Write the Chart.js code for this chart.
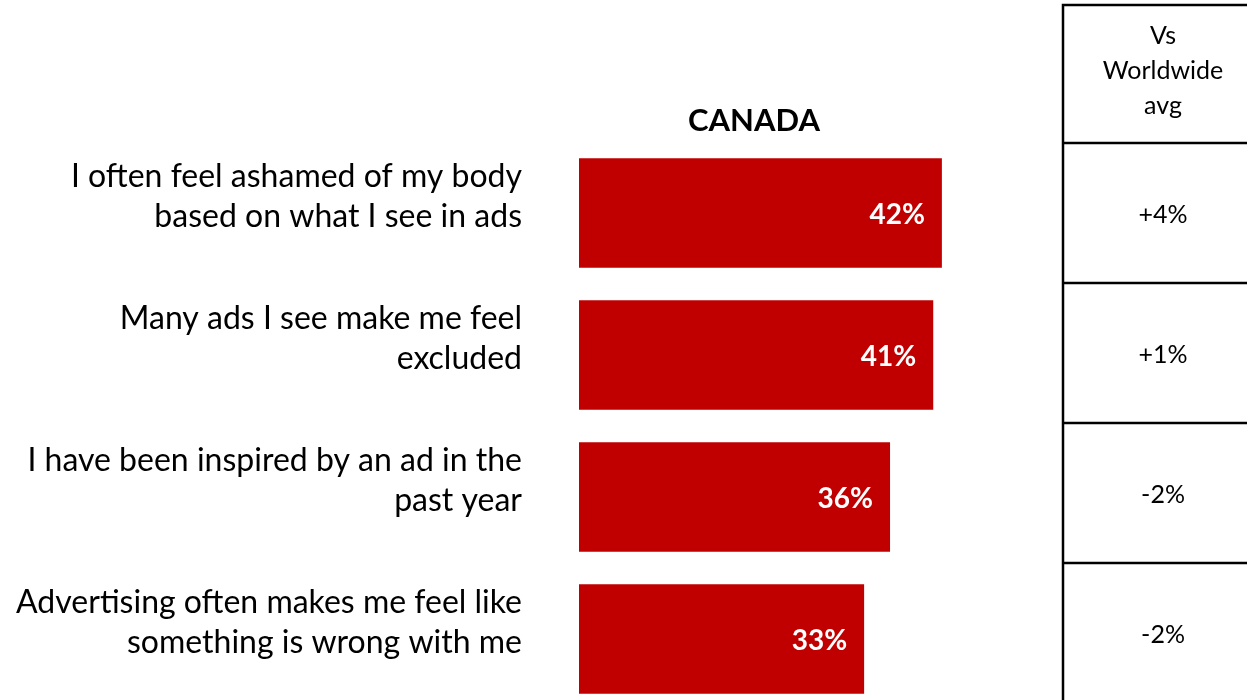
<!DOCTYPE html>
<html>
<head>
<meta charset="utf-8">
<script src="https://cdn.jsdelivr.net/npm/chart.js@4.4.0/dist/chart.umd.min.js"></script>
<style>
  html, body { margin: 0; padding: 0; background: #ffffff; overflow: hidden; }
  #wrap { position: relative; width: 1247px; height: 750px; }
</style>
</head>
<body>
<div id="wrap"><canvas id="chart" width="1247" height="750"></canvas></div>
<script>
// Survey statements (each entry is one label, split into its lines)
const categories = [
  ['I often feel ashamed of my body', 'based on what I see in ads'],
  ['Many ads I see make me feel', 'excluded'],
  ['I have been inspired by an ad in the', 'past year'],
  ['Advertising often makes me feel like', 'something is wrong with me']
];
// Share agreeing in Canada (%)
const canadaValues = [42, 41, 36, 33];
// Difference versus the worldwide average
const vsWorldwide = ['+4%', '+1%', '-2%', '-2%'];
const tableHeader = ['Vs', 'Worldwide', 'avg'];
const chartTitle = 'CANADA';

const FONT = 'Lato, "Open Sans", sans-serif';
const BAR_RED = '#C00000';

// Writes the percentage inside the end of each bar
const valueLabels = {
  id: 'valueLabels',
  afterDatasetsDraw(chart) {
    const { ctx } = chart;
    const meta = chart.getDatasetMeta(0);
    ctx.save();
    ctx.font = 'bold 28px ' + FONT;
    ctx.fillStyle = '#ffffff';
    ctx.textAlign = 'right';
    ctx.textBaseline = 'middle';
    meta.data.forEach((bar, i) => {
      ctx.fillText(canadaValues[i] + '%', bar.x - 17, bar.y + 2);
    });
    ctx.restore();
  }
};

// Country heading above the bars
const countryTitle = {
  id: 'countryTitle',
  afterDraw(chart) {
    const { ctx, chartArea } = chart;
    ctx.save();
    ctx.font = 'bold 31px ' + FONT;
    ctx.fillStyle = '#000000';
    ctx.textAlign = 'center';
    ctx.textBaseline = 'middle';
    ctx.fillText(chartTitle, chartArea.left + 175, chartArea.top - 21);
    ctx.restore();
  }
};

// Comparison column on the right with its grid lines
const comparisonTable = {
  id: 'comparisonTable',
  afterDraw(chart) {
    const { ctx, width } = chart;
    const left = 1063, top = 5, headerBottom = 143, rowH = 140;
    const cx = 1163;
    ctx.save();
    ctx.strokeStyle = '#000000';
    ctx.lineWidth = 2.5;
    ctx.beginPath();
    ctx.moveTo(left, chart.height);
    ctx.lineTo(left, top);
    ctx.lineTo(width, top);
    for (let i = 0; i < vsWorldwide.length; i++) {
      const y = headerBottom + i * rowH;
      ctx.moveTo(left, y);
      ctx.lineTo(width, y);
    }
    ctx.stroke();

    ctx.fillStyle = '#000000';
    ctx.textAlign = 'center';
    ctx.textBaseline = 'middle';
    ctx.font = '25px ' + FONT;
    tableHeader.forEach((line, i) => ctx.fillText(line, cx, 36 + i * 35));
    vsWorldwide.forEach((txt, i) => {
      ctx.fillText(txt, cx, headerBottom + i * rowH + rowH / 2 + 2);
    });
    ctx.restore();
  }
};

new Chart(document.getElementById('chart'), {
  type: 'bar',
  data: {
    labels: categories,
    datasets: [{
      data: canadaValues,
      backgroundColor: BAR_RED,
      borderWidth: 0,
      barPercentage: 1,
      categoryPercentage: 0.77
    }]
  },
  options: {
    indexAxis: 'y',
    responsive: false,
    animation: false,
    layout: { padding: { top: 142, bottom: 40, left: 0, right: 236 } },
    plugins: {
      legend: { display: false },
      tooltip: { enabled: false },
      title: { display: false }
    },
    scales: {
      x: {
        display: false,
        min: 0,
        max: 50
      },
      y: {
        // invisible tick marks supply the gap between labels and bars
        grid: {
          display: true,
          drawOnChartArea: false,
          drawTicks: true,
          tickLength: 57,
          color: 'rgba(0,0,0,0)'
        },
        border: { display: false },
        afterFit(scale) { scale.width = 579; },
        ticks: {
          color: '#000000',
          padding: 0,
          labelOffset: -16,
          crossAlign: 'near',
          font: { family: FONT, size: 32, lineHeight: '40px' }
        }
      }
    }
  },
  plugins: [valueLabels, countryTitle, comparisonTable]
});
</script>
</body>
</html>
